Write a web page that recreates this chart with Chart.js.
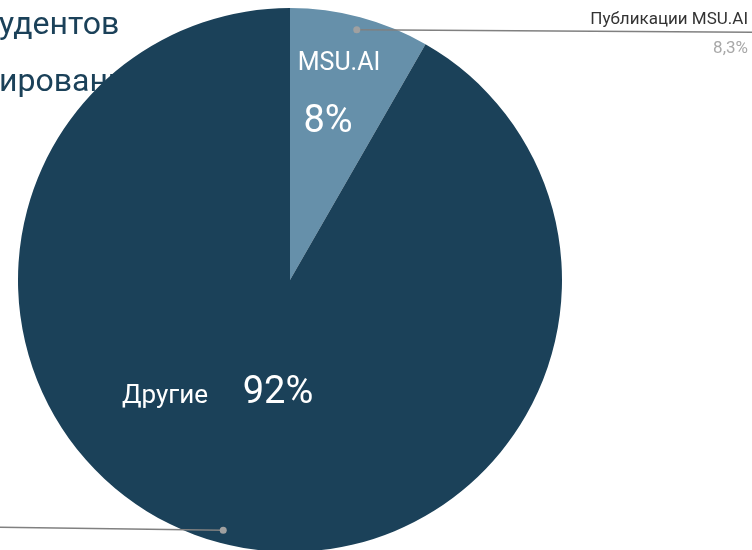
<!DOCTYPE html>
<html><head><meta charset="utf-8">
<script src="https://cdn.jsdelivr.net/npm/chart.js@4.4.0/dist/chart.umd.min.js"></script>
<style>html,body{margin:0;padding:0;background:#fff;overflow:hidden;width:752px;height:550px}canvas{display:block}</style>
</head><body>
<canvas id="c" width="752" height="552"></canvas>
<script>
const categories = ["MSU.AI", "Другие"];
const values = [8.3, 91.7];
const sliceLabels = ["8%", "92%"];
const calloutTitles = ["Публикации MSU.AI", ""];
const calloutValues = ["8,3%", ""];
const backgroundLines = ["удентов", "ированы"];
const colors = ["#6690AA", "#1B4159"];

const bgText = {
  id: 'bgText',
  beforeDatasetsDraw(chart) {
    const ctx = chart.ctx;
    ctx.save();
    ctx.fillStyle = '#1B4159';
    ctx.font = '32px Roboto';
    ctx.textBaseline = 'alphabetic';
    ctx.textAlign = 'left';
    ctx.fillText(backgroundLines[0], -1, 34);
    ctx.fillText(backgroundLines[1], -1, 91);
    ctx.restore();
  }
};

const labelsPlugin = {
  id: 'sliceLabels',
  afterDatasetsDraw(chart) {
    const ctx = chart.ctx;
    const meta = chart.getDatasetMeta(0);
    ctx.save();
    meta.data.forEach((arc, i) => {
      const p = arc.getProps(['x','y','startAngle','endAngle','outerRadius'], true);
      const mid = (p.startAngle + p.endAngle) / 2;
      const R = p.outerRadius;
      const dx = p.x + Math.cos(mid) * R * 0.952;
      const dy = p.y + Math.sin(mid) * R * 0.952;
      ctx.strokeStyle = '#808080';
      ctx.lineWidth = 1.6;
      ctx.beginPath();
      ctx.moveTo(dx, dy);
      if (i === 0) ctx.lineTo(chart.width, dy + 2.5); else ctx.lineTo(0, dy - 3);
      ctx.stroke();
      ctx.fillStyle = '#a0a0a0';
      ctx.beginPath(); ctx.arc(dx, dy, 3.5, 0, Math.PI*2); ctx.fill();
      ctx.fillStyle = '#ffffff';
      ctx.textBaseline = 'alphabetic';
      ctx.textAlign = 'center';
      if (i === 0) {
        ctx.font = '25px Roboto';
        ctx.fillText(categories[0], p.x + 49, 70);
        ctx.font = '38px Roboto';
        ctx.fillText(sliceLabels[0], p.x + 38, 132);
        ctx.textAlign = 'right';
        ctx.font = '17px Roboto';
        ctx.fillStyle = '#333333';
        ctx.fillText(calloutTitles[0], 748, 24);
        ctx.fillStyle = '#a8a8a8';
        ctx.fillText(calloutValues[0], 748, 53);
      } else {
        ctx.font = '26px Roboto';
        ctx.fillText(categories[1], p.x - 125, 403);
        ctx.font = '38px Roboto';
        ctx.fillText(sliceLabels[1], p.x - 12, 403);
      }
    });
    ctx.restore();
  }
};

new Chart(document.getElementById('c'), {
  type: 'pie',
  data: { labels: categories, datasets: [{ data: values, backgroundColor: colors, borderWidth: 0, hoverOffset: 0 }] },
  options: {
    responsive: false, animation: false, devicePixelRatio: 1,
    layout: { padding: { left: 18, right: 190, top: 8, bottom: 0 } },
    plugins: { legend: { display: false }, tooltip: { enabled: false } },
    events: []
  },
  plugins: [bgText, labelsPlugin]
});
</script>
</body></html>
